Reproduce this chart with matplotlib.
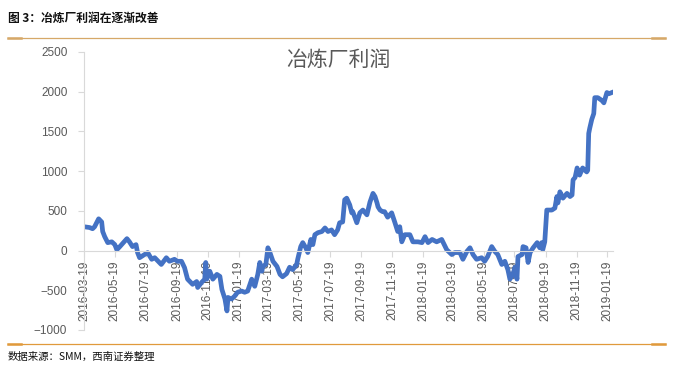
import pandas as pd
import matplotlib
matplotlib.use("Agg")
import matplotlib.pyplot as plt
from matplotlib.lines import Line2D

plt.rcParams['font.family'] = ['Liberation Sans', 'Noto Sans CJK SC', 'DejaVu Sans']

# smelter profit (yuan/t), days counted from the first date
start = pd.Timestamp('2016-03-19')
days = [0, 11, 17, 21, 29, 35, 37, 41, 47, 55, 61, 65, 71, 85, 90, 96, 103, 106, 110,
        120, 126, 134, 140, 153, 163, 169, 179, 185, 193, 199, 205, 215, 223, 225,
        233, 239, 241, 243, 249, 255, 263, 269, 273, 279, 283, 285, 292, 298, 304,
        312, 318, 324, 332, 334, 338, 344, 348, 352, 354, 360, 364, 368, 374, 382,
        388, 393, 401, 407, 413, 421, 423, 429, 433, 439, 443, 449, 453, 457, 463,
        471, 477, 483, 490, 496, 502, 506, 512, 516, 520, 526, 530, 532, 540, 546,
        552, 560, 566, 572, 576, 580, 582, 586, 591, 595, 601, 609, 615, 621, 625,
        629, 635, 645, 651, 661, 669, 675, 681, 689, 698, 708, 718, 728, 734, 744,
        750, 758, 764, 770, 777, 787, 793, 799, 807, 813, 819, 827, 833, 839, 843,
        849, 853, 857, 859, 867, 869, 875, 879, 883, 889, 897, 902, 906, 908, 912,
        916, 926, 932, 936, 938, 942, 948, 956, 962, 966, 968, 972, 976, 981, 987,
        995, 997, 999, 1001, 1005, 1009, 1011, 1017, 1025, 1029, 1035, 1039, 1045]
profit = [300, 290, 275, 300, 400, 360, 240, 175, 100, 110, 75, 10, 50, 150, 110, 50, 75, -25, -90,
          -50, -25, -110, -90, -175, -90, -135, -110, -135, -135, -215, -360, -425, -390, -465,
          -400, -360, -150, -360, -260, -360, -300, -325, -490, -610, -760, -590, -610, -575, -525,
          -510, -525, -510, -360, -400, -450, -300, -150, -260, -200, -175, 35, -25, -135, -200,
          -300, -330, -290, -210, -240, -175, -110, 50, 100, 35, -25, 140, 75, 200, 225,
          240, 285, 240, 260, 200, 260, 350, 360, 640, 660, 575, 475, 490, 350, 475,
          510, 450, 610, 720, 680, 600, 550, 510, 490, 490, 420, 475, 360, 240, 300,
          110, 200, 200, 110, 110, 100, 175, 100, 140, 110, 140, 10, -50, -25, -25,
          -110, -10, 35, -50, -110, -90, -135, -75, 50, -10, -50, -175, -135, -240, -360,
          -300, -210, -360, -75, -50, 50, 35, -150, -25, 35, 100, 35, 100, 10, 110,
          510, 510, 535, 680, 600, 740, 660, 720, 680, 700, 890, 920, 1040, 950, 1040,
          990, 1010, 1475, 1540, 1650, 1725, 1925, 1925, 1890, 1860, 1990, 1975, 1990]
tick_labels = ['2016-03-19', '2016-05-19', '2016-07-19', '2016-09-19', '2016-11-19',
               '2017-01-19', '2017-03-19', '2017-05-19', '2017-07-19', '2017-09-19',
               '2017-11-19', '2018-01-19', '2018-03-19', '2018-05-19', '2018-07-19',
               '2018-09-19', '2018-11-19', '2019-01-19']
y_ticks = [-1000, -500, 0, 500, 1000, 1500, 2000, 2500]

dates = start + pd.to_timedelta(days, unit='D')
tick_dates = pd.to_datetime(tick_labels)

fig = plt.figure(figsize=(6.73, 3.73), dpi=100)
ax = fig.add_axes([0.1248, 0.1153, 0.786, 0.7453])

# spine position first: moving it resets the ticks
for s in ['top', 'right']:
    ax.spines[s].set_visible(False)
ax.spines['bottom'].set_position(('data', 0))
ax.spines['bottom'].set_color('#D9D9D9')
ax.spines['left'].set_color('#D9D9D9')

ax.plot(dates, profit, color='#4472C4', lw=3.4, solid_joinstyle='round')

ax.set_xlim(start, start + pd.Timedelta(days=1047))
ax.set_ylim(-1000, 2500)
ax.set_yticks(y_ticks)
ax.set_xticks(tick_dates)
ax.set_xticklabels(tick_labels, rotation=90, fontsize=8.5, color='#595959')
ax.tick_params(axis='y', labelsize=8.5, labelcolor='#595959', color='#D9D9D9',
               length=4, width=0.8, pad=8)
ax.tick_params(axis='x', color='#D9D9D9', length=4, width=0.8, pad=3)

fig.text(338 / 673, 1 - 60 / 373, '冶炼厂利润', ha='center', va='center',
         fontsize=15, color='#595959', family=['Noto Sans CJK SC'])

# header and footer
fig.text(8 / 673, 1 - 18 / 373, '图 3：冶炼厂利润在逐渐改善', ha='left', va='center',
         fontsize=8.5, fontweight='bold', color='#111111',
         family=['Noto Sans CJK SC', 'DejaVu Sans'])
fig.text(8 / 673, 1 - 357 / 373, '数据来源：SMM，西南证券整理', ha='left', va='center',
         fontsize=7.5, style='italic', color='#111111',
         family=['Noto Sans CJK SC', 'DejaVu Sans'])

for yy, c in [(37.5, '#D6A868'), (343.5, '#E09A3C')]:
    y = 1 - yy / 373
    fig.add_artist(Line2D([8 / 673, 665 / 673], [y, y], color=c, lw=0.9,
                          transform=fig.transFigure))
    for x0, x1 in [(8, 21), (652, 665)]:
        fig.add_artist(Line2D([x0 / 673, x1 / 673], [y - 0.6 / 373, y - 0.6 / 373],
                              color=c, lw=1.8, transform=fig.transFigure))

fig.savefig('out.png', dpi=100)
